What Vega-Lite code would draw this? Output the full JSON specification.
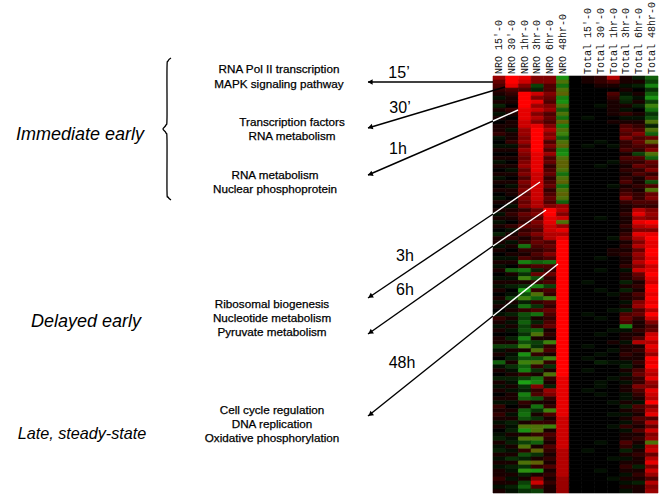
{"$schema":"https://vega.github.io/schema/vega-lite/v6.json","width":661,"height":496,"padding":0,"autosize":{"type":"fit","contains":"padding"},"background":"white","config":{"view":{"stroke":null}},"resolve":{"scale":{"x":"independent","y":"independent"}},"layer":[
{"data":{"values":[
{"r":0,"a":6,"b":10,"c":9,"d":5,"e":5,"f":-9,"g":0,"h":1,"i":2,"j":7,"k":1,"l":-2,"m":-6},
{"r":1,"a":4,"b":10,"c":8,"d":5,"e":5,"f":-13,"g":0,"h":1,"i":2,"j":3,"k":1,"l":1,"m":-4},
{"r":2,"a":3,"b":9,"c":5,"d":-4,"e":3,"f":-7,"g":0,"h":0,"i":1,"j":1,"k":-1,"l":-2,"m":-8},
{"r":3,"a":2,"b":3,"c":3,"d":-2,"e":3,"f":-13,"g":0,"h":0,"i":0,"j":0,"k":1,"l":0,"m":-3},
{"r":4,"a":1,"b":2,"c":10,"d":8,"e":5,"f":-14,"g":0,"h":0,"i":0,"j":3,"k":-1,"l":1,"m":-6},
{"r":5,"a":-1,"b":1,"c":10,"d":5,"e":4,"f":-8,"g":0,"h":0,"i":0,"j":2,"k":-3,"l":-1,"m":-9},
{"r":6,"a":1,"b":1,"c":10,"d":9,"e":3,"f":-9,"g":0,"h":0,"i":0,"j":1,"k":-2,"l":1,"m":-4},
{"r":7,"a":-2,"b":0,"c":10,"d":6,"e":5,"f":-13,"g":0,"h":0,"i":-1,"j":1,"k":1,"l":-2,"m":-12},
{"r":8,"a":1,"b":2,"c":9,"d":8,"e":6,"f":-6,"g":0,"h":0,"i":0,"j":1,"k":-1,"l":0,"m":-7},
{"r":9,"a":-1,"b":1,"c":9,"d":5,"e":3,"f":-13,"g":0,"h":0,"i":0,"j":1,"k":2,"l":1,"m":-3},
{"r":10,"a":1,"b":0,"c":9,"d":7,"e":4,"f":-7,"g":0,"h":-1,"i":0,"j":0,"k":-1,"l":-1,"m":-5},
{"r":11,"a":0,"b":1,"c":8,"d":5,"e":3,"f":-14,"g":0,"h":0,"i":0,"j":1,"k":1,"l":1,"m":-13},
{"r":12,"a":1,"b":1,"c":8,"d":9,"e":5,"f":-8,"g":0,"h":0,"i":0,"j":0,"k":3,"l":2,"m":-2},
{"r":13,"a":1,"b":-1,"c":6,"d":10,"e":7,"f":-13,"g":0,"h":0,"i":0,"j":0,"k":4,"l":3,"m":-13},
{"r":14,"a":2,"b":1,"c":6,"d":10,"e":5,"f":-12,"g":0,"h":0,"i":0,"j":0,"k":3,"l":5,"m":-6},
{"r":15,"a":-1,"b":1,"c":5,"d":10,"e":6,"f":-6,"g":0,"h":0,"i":0,"j":0,"k":5,"l":3,"m":4},
{"r":16,"a":0,"b":2,"c":6,"d":10,"e":3,"f":-13,"g":0,"h":0,"i":-1,"j":0,"k":2,"l":4,"m":-14},
{"r":17,"a":-1,"b":-1,"c":4,"d":10,"e":5,"f":-14,"g":0,"h":-1,"i":0,"j":-1,"k":2,"l":3,"m":3},
{"r":18,"a":1,"b":1,"c":6,"d":10,"e":3,"f":-8,"g":0,"h":0,"i":0,"j":0,"k":3,"l":2,"m":5},
{"r":19,"a":0,"b":0,"c":5,"d":9,"e":6,"f":-9,"g":0,"h":0,"i":0,"j":0,"k":1,"l":-4,"m":-13},
{"r":20,"a":1,"b":1,"c":4,"d":9,"e":3,"f":-13,"g":0,"h":0,"i":0,"j":0,"k":3,"l":3,"m":-6},
{"r":21,"a":-1,"b":0,"c":5,"d":9,"e":4,"f":-14,"g":0,"h":0,"i":0,"j":-1,"k":2,"l":2,"m":4},
{"r":22,"a":1,"b":1,"c":6,"d":9,"e":2,"f":-14,"g":0,"h":0,"i":-1,"j":0,"k":1,"l":4,"m":3},
{"r":23,"a":0,"b":-1,"c":4,"d":9,"e":3,"f":-13,"g":0,"h":0,"i":0,"j":0,"k":2,"l":2,"m":5},
{"r":24,"a":1,"b":1,"c":5,"d":8,"e":4,"f":-7,"g":0,"h":0,"i":0,"j":0,"k":1,"l":3,"m":2},
{"r":25,"a":-1,"b":0,"c":3,"d":8,"e":2,"f":-13,"g":0,"h":0,"i":0,"j":0,"k":2,"l":1,"m":4},
{"r":26,"a":1,"b":1,"c":5,"d":8,"e":3,"f":-14,"g":0,"h":0,"i":0,"j":0,"k":3,"l":1,"m":-5},
{"r":27,"a":0,"b":-1,"c":4,"d":8,"e":4,"f":-7,"g":0,"h":0,"i":0,"j":-1,"k":1,"l":2,"m":3},
{"r":28,"a":1,"b":1,"c":5,"d":8,"e":2,"f":-13,"g":0,"h":0,"i":0,"j":0,"k":2,"l":1,"m":-13},
{"r":29,"a":0,"b":1,"c":4,"d":8,"e":3,"f":-14,"g":0,"h":0,"i":0,"j":0,"k":3,"l":2,"m":4},
{"r":30,"a":-1,"b":0,"c":5,"d":8,"e":4,"f":-13,"g":0,"h":0,"i":0,"j":0,"k":5,"l":2,"m":5},
{"r":31,"a":1,"b":1,"c":4,"d":7,"e":3,"f":-6,"g":0,"h":0,"i":0,"j":0,"k":2,"l":3,"m":3},
{"r":32,"a":0,"b":-1,"c":5,"d":7,"e":5,"f":6,"g":0,"h":0,"i":0,"j":0,"k":1,"l":2,"m":2},
{"r":33,"a":1,"b":1,"c":2,"d":4,"e":10,"f":7,"g":0,"h":0,"i":0,"j":0,"k":1,"l":7,"m":5},
{"r":34,"a":-1,"b":2,"c":4,"d":5,"e":10,"f":5,"g":0,"h":0,"i":0,"j":0,"k":2,"l":9,"m":6},
{"r":35,"a":1,"b":1,"c":3,"d":3,"e":9,"f":8,"g":0,"h":0,"i":-1,"j":0,"k":1,"l":6,"m":5},
{"r":36,"a":-1,"b":0,"c":2,"d":5,"e":9,"f":-13,"g":0,"h":0,"i":0,"j":0,"k":1,"l":9,"m":10},
{"r":37,"a":1,"b":2,"c":4,"d":4,"e":8,"f":6,"g":0,"h":0,"i":0,"j":0,"k":2,"l":7,"m":8},
{"r":38,"a":0,"b":-1,"c":2,"d":3,"e":8,"f":9,"g":0,"h":0,"i":0,"j":0,"k":1,"l":5,"m":5},
{"r":39,"a":-2,"b":1,"c":3,"d":5,"e":7,"f":7,"g":0,"h":0,"i":0,"j":0,"k":2,"l":9,"m":9},
{"r":40,"a":1,"b":2,"c":1,"d":3,"e":7,"f":9,"g":0,"h":0,"i":0,"j":-1,"k":3,"l":7,"m":10},
{"r":41,"a":1,"b":-1,"c":2,"d":4,"e":3,"f":10,"g":0,"h":0,"i":0,"j":0,"k":1,"l":5,"m":9},
{"r":42,"a":-1,"b":1,"c":-7,"d":3,"e":4,"f":10,"g":0,"h":0,"i":0,"j":0,"k":2,"l":7,"m":9},
{"r":43,"a":1,"b":0,"c":2,"d":2,"e":3,"f":10,"g":0,"h":0,"i":0,"j":1,"k":1,"l":4,"m":10},
{"r":44,"a":0,"b":1,"c":1,"d":3,"e":5,"f":10,"g":0,"h":0,"i":0,"j":1,"k":2,"l":6,"m":10},
{"r":45,"a":-1,"b":-1,"c":3,"d":2,"e":3,"f":10,"g":0,"h":0,"i":-1,"j":0,"k":1,"l":5,"m":9},
{"r":46,"a":1,"b":1,"c":-8,"d":-6,"e":-7,"f":10,"g":0,"h":0,"i":0,"j":0,"k":1,"l":7,"m":10},
{"r":47,"a":-1,"b":0,"c":2,"d":3,"e":3,"f":10,"g":0,"h":0,"i":0,"j":0,"k":2,"l":5,"m":8},
{"r":48,"a":1,"b":-6,"c":-7,"d":-2,"e":2,"f":10,"g":0,"h":0,"i":-1,"j":0,"k":-1,"l":8,"m":9},
{"r":49,"a":0,"b":1,"c":-3,"d":4,"e":4,"f":10,"g":0,"h":0,"i":0,"j":0,"k":1,"l":4,"m":10},
{"r":50,"a":-1,"b":-1,"c":-12,"d":-5,"e":2,"f":10,"g":0,"h":0,"i":0,"j":0,"k":1,"l":3,"m":9},
{"r":51,"a":1,"b":1,"c":1,"d":2,"e":3,"f":10,"g":0,"h":-1,"i":0,"j":0,"k":-2,"l":1,"m":8},
{"r":52,"a":-1,"b":-2,"c":-3,"d":-8,"e":-4,"f":10,"g":0,"h":0,"i":0,"j":0,"k":1,"l":2,"m":10},
{"r":53,"a":1,"b":0,"c":-10,"d":2,"e":3,"f":10,"g":0,"h":0,"i":-1,"j":0,"k":-2,"l":1,"m":10},
{"r":54,"a":0,"b":-1,"c":-5,"d":-13,"e":2,"f":10,"g":0,"h":0,"i":0,"j":-1,"k":1,"l":3,"m":9},
{"r":55,"a":1,"b":-4,"c":-12,"d":-6,"e":-12,"f":10,"g":0,"h":0,"i":0,"j":0,"k":1,"l":2,"m":10},
{"r":56,"a":-1,"b":1,"c":-2,"d":2,"e":3,"f":10,"g":0,"h":0,"i":0,"j":0,"k":-1,"l":5,"m":9},
{"r":57,"a":1,"b":-1,"c":-7,"d":-3,"e":2,"f":10,"g":0,"h":0,"i":0,"j":0,"k":1,"l":6,"m":10},
{"r":58,"a":0,"b":1,"c":2,"d":3,"e":4,"f":10,"g":0,"h":0,"i":0,"j":-1,"k":-2,"l":3,"m":7},
{"r":59,"a":-1,"b":-2,"c":-5,"d":-7,"e":3,"f":10,"g":0,"h":-1,"i":0,"j":0,"k":3,"l":4,"m":10},
{"r":60,"a":2,"b":1,"c":-4,"d":1,"e":2,"f":10,"g":0,"h":0,"i":-1,"j":0,"k":4,"l":2,"m":8},
{"r":61,"a":1,"b":-1,"c":-6,"d":-2,"e":3,"f":10,"g":0,"h":0,"i":0,"j":0,"k":3,"l":1,"m":5},
{"r":62,"a":-1,"b":1,"c":-4,"d":2,"e":4,"f":10,"g":0,"h":0,"i":0,"j":0,"k":-8,"l":1,"m":3},
{"r":63,"a":1,"b":-1,"c":-5,"d":-6,"e":1,"f":10,"g":0,"h":0,"i":0,"j":-1,"k":-1,"l":2,"m":4},
{"r":64,"a":0,"b":0,"c":-3,"d":-13,"e":2,"f":10,"g":0,"h":0,"i":-1,"j":0,"k":1,"l":1,"m":8},
{"r":65,"a":1,"b":-2,"c":-8,"d":1,"e":1,"f":10,"g":0,"h":0,"i":0,"j":0,"k":1,"l":3,"m":9},
{"r":66,"a":1,"b":1,"c":-5,"d":-4,"e":-12,"f":10,"g":0,"h":0,"i":0,"j":1,"k":-1,"l":7,"m":7},
{"r":67,"a":-4,"b":-4,"c":-12,"d":-3,"e":2,"f":10,"g":0,"h":-1,"i":0,"j":0,"k":1,"l":1,"m":9},
{"r":68,"a":-1,"b":1,"c":1,"d":-13,"e":3,"f":10,"g":0,"h":0,"i":0,"j":-1,"k":1,"l":2,"m":8},
{"r":69,"a":1,"b":-1,"c":-9,"d":2,"e":1,"f":10,"g":0,"h":0,"i":-1,"j":0,"k":2,"l":1,"m":6},
{"r":70,"a":0,"b":-2,"c":-5,"d":-5,"e":-12,"f":10,"g":0,"h":-1,"i":0,"j":0,"k":1,"l":1,"m":10},
{"r":71,"a":-6,"b":1,"c":-12,"d":-13,"e":2,"f":10,"g":0,"h":0,"i":-2,"j":-1,"k":-1,"l":2,"m":9},
{"r":72,"a":-1,"b":-3,"c":-6,"d":2,"e":-3,"f":10,"g":0,"h":0,"i":0,"j":0,"k":-2,"l":1,"m":10},
{"r":73,"a":1,"b":-1,"c":-8,"d":-3,"e":1,"f":10,"g":0,"h":-1,"i":0,"j":0,"k":1,"l":3,"m":8},
{"r":74,"a":0,"b":1,"c":2,"d":1,"e":-13,"f":10,"g":0,"h":0,"i":0,"j":0,"k":-1,"l":4,"m":7},
{"r":75,"a":-2,"b":-2,"c":-4,"d":-7,"e":2,"f":9,"g":0,"h":0,"i":0,"j":-1,"k":1,"l":2,"m":9},
{"r":76,"a":1,"b":-1,"c":-10,"d":-8,"e":1,"f":9,"g":0,"h":0,"i":-1,"j":0,"k":-1,"l":2,"m":6},
{"r":77,"a":-1,"b":1,"c":-3,"d":5,"e":-2,"f":9,"g":0,"h":0,"i":-1,"j":0,"k":1,"l":5,"m":5},
{"r":78,"a":1,"b":-1,"c":-2,"d":2,"e":6,"f":9,"g":0,"h":-1,"i":0,"j":0,"k":1,"l":3,"m":9},
{"r":79,"a":0,"b":1,"c":-8,"d":3,"e":5,"f":9,"g":0,"h":0,"i":-1,"j":0,"k":-1,"l":2,"m":8},
{"r":80,"a":1,"b":1,"c":-6,"d":-5,"e":2,"f":9,"g":0,"h":0,"i":0,"j":0,"k":-1,"l":1,"m":7},
{"r":81,"a":-1,"b":-1,"c":2,"d":1,"e":1,"f":9,"g":0,"h":0,"i":0,"j":-1,"k":1,"l":-1,"m":10},
{"r":82,"a":2,"b":0,"c":1,"d":-7,"e":2,"f":9,"g":0,"h":0,"i":0,"j":0,"k":-2,"l":3,"m":5},
{"r":83,"a":1,"b":1,"c":-6,"d":-3,"e":-12,"f":9,"g":0,"h":0,"i":0,"j":0,"k":1,"l":2,"m":7},
{"r":84,"a":2,"b":-1,"c":-7,"d":1,"e":3,"f":9,"g":0,"h":0,"i":0,"j":-1,"k":-1,"l":1,"m":9},
{"r":85,"a":1,"b":1,"c":-5,"d":-3,"e":1,"f":8,"g":0,"h":0,"i":0,"j":0,"k":1,"l":3,"m":3},
{"r":86,"a":-1,"b":-2,"c":1,"d":2,"e":2,"f":8,"g":0,"h":0,"i":0,"j":0,"k":-1,"l":2,"m":7},
{"r":87,"a":1,"b":-1,"c":-13,"d":-13,"e":-12,"f":8,"g":0,"h":0,"i":0,"j":-1,"k":2,"l":1,"m":4},
{"r":88,"a":0,"b":-2,"c":-9,"d":-13,"e":1,"f":8,"g":0,"h":0,"i":0,"j":0,"k":-1,"l":3,"m":8},
{"r":89,"a":-1,"b":1,"c":1,"d":2,"e":3,"f":8,"g":0,"h":0,"i":0,"j":0,"k":1,"l":1,"m":5},
{"r":90,"a":-2,"b":-1,"c":-13,"d":-13,"e":2,"f":8,"g":0,"h":0,"i":0,"j":0,"k":1,"l":2,"m":6},
{"r":91,"a":1,"b":-2,"c":-4,"d":-6,"e":1,"f":8,"g":0,"h":0,"i":-1,"j":0,"k":3,"l":1,"m":-13},
{"r":92,"a":-1,"b":1,"c":-13,"d":1,"e":3,"f":8,"g":0,"h":0,"i":0,"j":0,"k":2,"l":-1,"m":7},
{"r":93,"a":-2,"b":-1,"c":2,"d":-14,"e":2,"f":7,"g":0,"h":-1,"i":0,"j":0,"k":-2,"l":1,"m":8},
{"r":94,"a":1,"b":1,"c":-5,"d":-3,"e":1,"f":7,"g":0,"h":0,"i":0,"j":0,"k":1,"l":2,"m":4},
{"r":95,"a":-1,"b":-3,"c":-2,"d":1,"e":2,"f":7,"g":0,"h":0,"i":0,"j":-1,"k":-1,"l":1,"m":7},
{"r":96,"a":1,"b":1,"c":-13,"d":-14,"e":1,"f":7,"g":0,"h":0,"i":0,"j":0,"k":1,"l":1,"m":9},
{"r":97,"a":-1,"b":-2,"c":-3,"d":2,"e":3,"f":7,"g":0,"h":0,"i":0,"j":0,"k":2,"l":-2,"m":5},
{"r":98,"a":1,"b":-1,"c":-11,"d":-9,"e":1,"f":7,"g":0,"h":0,"i":-1,"j":0,"k":1,"l":1,"m":8},
{"r":99,"a":1,"b":1,"c":-2,"d":1,"e":2,"f":7,"g":0,"h":0,"i":0,"j":0,"k":-1,"l":2,"m":6},
{"r":100,"a":2,"b":-1,"c":1,"d":5,"e":1,"f":6,"g":0,"h":0,"i":0,"j":-1,"k":1,"l":1,"m":3},
{"r":101,"a":1,"b":1,"c":-4,"d":8,"e":2,"f":6,"g":0,"h":0,"i":0,"j":0,"k":-1,"l":-2,"m":7},
{"r":102,"a":-1,"b":-2,"c":-6,"d":3,"e":1,"f":6,"g":0,"h":0,"i":0,"j":0,"k":1,"l":1,"m":5},
{"r":103,"a":1,"b":-1,"c":-3,"d":-4,"e":1,"f":6,"g":0,"h":0,"i":0,"j":0,"k":-1,"l":1,"m":6}
]},
"transform":[{"fold":["a","b","c","d","e","f","g","h","i","j","k","l","m"],"as":["col","val"]}],
"mark":{"type":"rect","strokeWidth":0.6},
"encoding":{
"x":{"field":"col","type":"nominal","axis":null,"scale":{"domain":["a","b","c","d","e","f","g","h","i","j","k","l","m"],"range":[493,658],"paddingInner":0,"paddingOuter":0}},
"y":{"field":"r","type":"ordinal","axis":null,"scale":{"range":[76,493],"paddingInner":0,"paddingOuter":0}},
"color":{"field":"val","type":"quantitative","legend":null,"scale":{"domain":[-15,-10,0,10],"range":["#6e5200","#1ca014","#000000","#ff0000"],"interpolate":"rgb"}},
"stroke":{"field":"val","type":"quantitative","legend":null,"scale":{"domain":[-15,-10,0,10],"range":["#6e5200","#1ca014","#000000","#ff0000"],"interpolate":"rgb"}}}},
{"data":{"values":[{"col":"a","label":"NRO 15'-0"},{"col":"b","label":"NRO 30'-0"},{"col":"c","label":"NRO 1hr-0"},{"col":"d","label":"NRO 3hr-0"},{"col":"e","label":"NRO 6hr-0"},{"col":"f","label":"NRO 48hr-0"},{"col":"h","label":"Total 15'-0"},{"col":"i","label":"Total 30'-0"},{"col":"j","label":"Total 1hr-0"},{"col":"k","label":"Total 3hr-0"},{"col":"l","label":"Total 6hr-0"},{"col":"m","label":"Total 48hr-0"}]},
"mark":{"type":"text","font":"Liberation Mono","fontSize":10,"angle":270,"align":"left","baseline":"middle","color":"#111111"},
"encoding":{
"x":{"field":"col","type":"nominal","axis":null,"scale":{"domain":["a","b","c","d","e","f","g","h","i","j","k","l","m"],"range":[493,658],"paddingInner":0,"paddingOuter":0}},
"y":{"datum":74,"type":"quantitative","axis":null,"scale":{"domain":[496,0]}},
"text":{"field":"label"}}},
{"data":{"values":[{"x":493,"y":82,"x2":368,"y2":82},{"x":505,"y":87,"x2":368,"y2":128},{"x":493,"y":121,"x2":368,"y2":175},{"x":493,"y":214,"x2":368,"y2":298},{"x":493,"y":246,"x2":368,"y2":334},{"x":493,"y":316,"x2":368,"y2":416}]},
"mark":{"type":"rule","color":"black","strokeWidth":1.4},
"encoding":{"x":{"field":"x","type":"quantitative","axis":null,"scale":{"domain":[0,661]}},"y":{"field":"y","type":"quantitative","axis":null,"scale":{"domain":[496,0]}},"x2":{"field":"x2"},"y2":{"field":"y2"}}},
{"data":{"values":[{"x":518,"y":110,"x2":493,"y2":121},{"x":540,"y":182,"x2":493,"y2":214},{"x":546,"y":210,"x2":493,"y2":246},{"x":558,"y":264,"x2":493,"y2":316}]},
"mark":{"type":"rule","color":"white","strokeWidth":1.4},
"encoding":{"x":{"field":"x","type":"quantitative","axis":null,"scale":{"domain":[0,661]}},"y":{"field":"y","type":"quantitative","axis":null,"scale":{"domain":[496,0]}},"x2":{"field":"x2"},"y2":{"field":"y2"}}},
{"data":{"values":[{"x":371,"y":82,"dir":270},{"x":371,"y":127,"dir":253},{"x":371,"y":174,"dir":247},{"x":371,"y":296,"dir":236},{"x":371,"y":332,"dir":235},{"x":371,"y":414,"dir":231}]},
"mark":{"type":"point","shape":"triangle","filled":true,"color":"black","size":32,"opacity":1},
"encoding":{"x":{"field":"x","type":"quantitative","axis":null,"scale":{"domain":[0,661]}},"y":{"field":"y","type":"quantitative","axis":null,"scale":{"domain":[496,0]}},"angle":{"field":"dir","type":"quantitative","scale":null}}},
{"data":{"values":[{"o":0,"x":171,"y":58},{"o":1,"x":168,"y":61},{"o":2,"x":167,"y":68},{"o":3,"x":167,"y":118},{"o":4,"x":166,"y":125},{"o":5,"x":163,"y":129},{"o":6,"x":166,"y":133},{"o":7,"x":167,"y":140},{"o":8,"x":167,"y":191},{"o":9,"x":168,"y":197},{"o":10,"x":171,"y":200}]},
"mark":{"type":"line","color":"black","strokeWidth":1.3,"interpolate":"cardinal"},
"encoding":{"x":{"field":"x","type":"quantitative","axis":null,"scale":{"domain":[0,661]}},"y":{"field":"y","type":"quantitative","axis":null,"scale":{"domain":[496,0]}},"order":{"field":"o","type":"quantitative"}}},
{"data":{"values":[{"x":279,"y":69,"t":"RNA Pol II transcription"},{"x":279,"y":84,"t":"MAPK signaling pathway"},{"x":292,"y":122,"t":"Transcription factors"},{"x":292,"y":136,"t":"RNA metabolism"},{"x":275,"y":175,"t":"RNA metabolism"},{"x":275,"y":189,"t":"Nuclear phosphoprotein"},{"x":272,"y":304,"t":"Ribosomal biogenesis"},{"x":272,"y":318,"t":"Nucleotide metabolism"},{"x":272,"y":332,"t":"Pyruvate metabolism"},{"x":272,"y":410,"t":"Cell cycle regulation"},{"x":272,"y":424,"t":"DNA replication"},{"x":272,"y":438,"t":"Oxidative phosphorylation"}]},
"mark":{"type":"text","font":"Liberation Sans","fontSize":11.7,"align":"center","baseline":"middle","color":"black","stroke":"black","strokeWidth":0.25},
"encoding":{"x":{"field":"x","type":"quantitative","axis":null,"scale":{"domain":[0,661]}},"y":{"field":"y","type":"quantitative","axis":null,"scale":{"domain":[496,0]}},"text":{"field":"t"}}},
{"data":{"values":[{"x":80,"y":134,"t":"Immediate early"},{"x":86,"y":321,"t":"Delayed early"}]},
"mark":{"type":"text","font":"Liberation Sans","fontSize":18,"fontStyle":"italic","align":"center","baseline":"middle","color":"black","dy":1},
"encoding":{"x":{"field":"x","type":"quantitative","axis":null,"scale":{"domain":[0,661]}},"y":{"field":"y","type":"quantitative","axis":null,"scale":{"domain":[496,0]}},"text":{"field":"t"}}},
{"data":{"values":[{"x":82,"y":433,"t":"Late, steady-state"}]},
"mark":{"type":"text","font":"Liberation Sans","fontSize":16.2,"fontStyle":"italic","align":"center","baseline":"middle","color":"black","dy":1},
"encoding":{"x":{"field":"x","type":"quantitative","axis":null,"scale":{"domain":[0,661]}},"y":{"field":"y","type":"quantitative","axis":null,"scale":{"domain":[496,0]}},"text":{"field":"t"}}},
{"data":{"values":[{"x":399,"y":73,"t":"15’"},{"x":400,"y":108,"t":"30’"},{"x":398,"y":149,"t":"1h"},{"x":405,"y":256,"t":"3h"},{"x":405,"y":290,"t":"6h"},{"x":402,"y":363,"t":"48h"}]},
"mark":{"type":"text","font":"Liberation Sans","fontSize":16,"align":"center","baseline":"middle","color":"black"},
"encoding":{"x":{"field":"x","type":"quantitative","axis":null,"scale":{"domain":[0,661]}},"y":{"field":"y","type":"quantitative","axis":null,"scale":{"domain":[496,0]}},"text":{"field":"t"}}}
]}
